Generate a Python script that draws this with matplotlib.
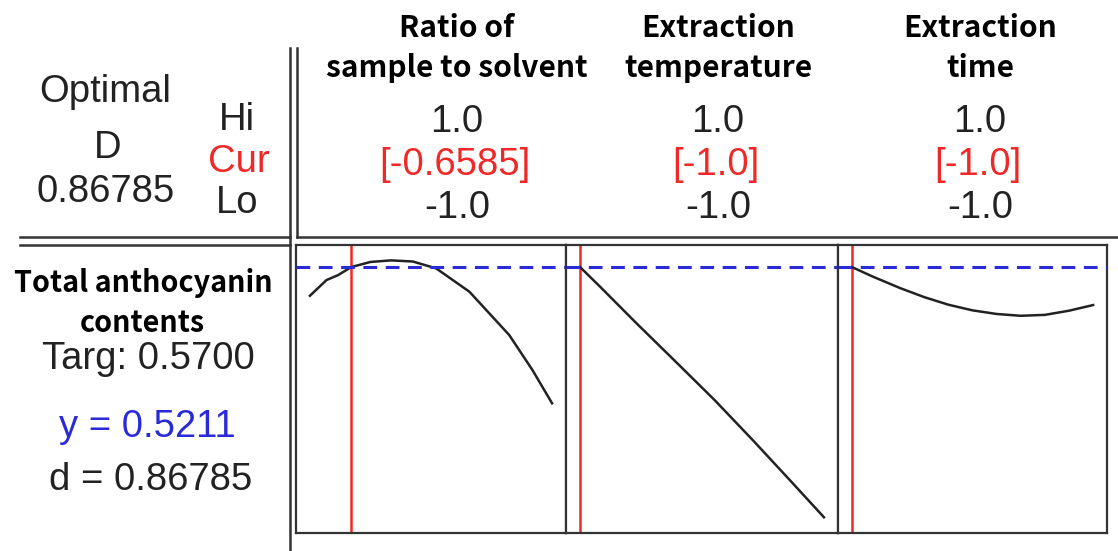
import matplotlib
matplotlib.use("Agg")
import matplotlib.pyplot as plt
from matplotlib.lines import Line2D

# factor settings (coded units)
factors = [["Ratio of", "sample to solvent"], ["Extraction", "temperature"], ["Extraction", "time"]]
hi_vals = ["1.0", "1.0", "1.0"]
cur_vals = [-0.6585, -1.0, -1.0]
cur_text = ["[-0.6585]", "[-1.0]", "[-1.0]"]
lo_vals = ["-1.0", "-1.0", "-1.0"]

response = ["Total anthocyanin", "contents"]
target = 0.5700
y_cur = 0.5211
d_val = 0.86785

# predicted response traces for each factor
ratio_x = [-1.0, -0.863, -0.767, -0.6585, -0.5, -0.33, -0.15, 0.043, 0.317, 0.646, 0.838, 1.0]
ratio_y = [0.4957, 0.5096, 0.5140, 0.5211, 0.5256, 0.5270, 0.5260, 0.5199, 0.4993, 0.4610, 0.4300, 0.4006]
temp_x = [-1.0, -0.841, -0.528, -0.210, 0.103, 0.421, 0.737, 1.0]
temp_y = [0.5211, 0.5043, 0.4704, 0.4368, 0.4035, 0.3675, 0.3307, 0.2998]
time_x = [-1.0, -0.83, -0.6, -0.4, -0.2, 0.0, 0.2, 0.4, 0.6, 0.8, 1.0]
time_y = [0.5211, 0.5128, 0.5025, 0.4945, 0.4878, 0.4828, 0.4796, 0.4780, 0.4788, 0.4825, 0.4875]
curves = [(ratio_x, ratio_y), (temp_x, temp_y), (time_x, time_y)]

W, H = 1118, 551
fig = plt.figure(figsize=(W / 100, H / 100), dpi=100)

NUM_FONT = ["Liberation Sans", "DejaVu Sans"]
BOLD_FONT = ["Noto Sans CJK KR", "DejaVu Sans"]
RED = "#f02828"
BLUE = "#2a2ad8"
INK = "#222222"
FRAME = "#333333"


def px(x, y):
    return x / W, 1 - y / H


def label(x, y, s, size=27.5, color=INK, font=NUM_FONT, weight="normal"):
    # y is the text baseline in pixels from the top
    fx, fy = px(x, y)
    fig.text(fx, fy, s, ha="center", va="baseline", fontsize=size, color=color,
             family=font, fontweight=weight)


def rule(x0, y0, x1, y1):
    a, b = px(x0, y0)
    c, d = px(x1, y1)
    fig.add_artist(Line2D([a, c], [b, d], transform=fig.transFigure,
                          color=FRAME, lw=1.8))


# frame lines of the optimizer layout
rule(290, 48, 290, 551)
rule(297, 48, 297, 237)
rule(20, 237, 290, 237)
rule(297, 237, 1118, 237)
rule(20, 245, 290, 245)

# header block
label(105, 102, "Optimal")
label(108, 158, "D")
label(106, 202, "0.86785")
label(237, 130, "Hi")
label(239, 172, "Cur", color=RED)
label(237, 213, "Lo")

col_x = [457, 718, 980]
for i, cx in enumerate(col_x):
    label(cx, 37, factors[i][0], size=21.5, font=BOLD_FONT, weight="bold", color="black")
    label(cx, 77, factors[i][1], size=21.5, font=BOLD_FONT, weight="bold", color="black")
    label(cx, 132, hi_vals[i])
    label(cx - 2, 175, cur_text[i], color=RED)
    label(cx, 218, lo_vals[i])

# response block
label(143, 292, response[0], size=20.7, font=BOLD_FONT, weight="bold", color="black")
label(142, 332, response[1], size=20.7, font=BOLD_FONT, weight="bold", color="black")
label(148, 369, f"Targ: {target:.4f}")
label(147, 437, f"y = {y_cur:.4f}", color=BLUE)
label(151, 490, f"d = {d_val:.5f}")

# factor panels
edges = [296, 566, 838, 1107]
top, bottom = 245, 533
for i in range(3):
    l, b = px(edges[i], bottom)
    r, t = px(edges[i + 1], top)
    ax = fig.add_axes([l, b, r - l, t - b])
    ax.set_xlim(-1.115, 1.115)
    ax.set_ylim(0.2859, 0.5406)
    ax.set_xticks([])
    ax.set_yticks([])
    for s in ax.spines.values():
        s.set_color(FRAME)
        s.set_linewidth(1.6)
    xs, ys = curves[i]
    ax.plot(xs, ys, color=INK, lw=1.8, zorder=3)
    ax.axvline(cur_vals[i], color=RED, lw=1.8, zorder=2)
    ax.axhline(y_cur, color=BLUE, lw=2.2, dashes=(4.5, 2.8), zorder=4)

fig.savefig("out.png", dpi=100)
